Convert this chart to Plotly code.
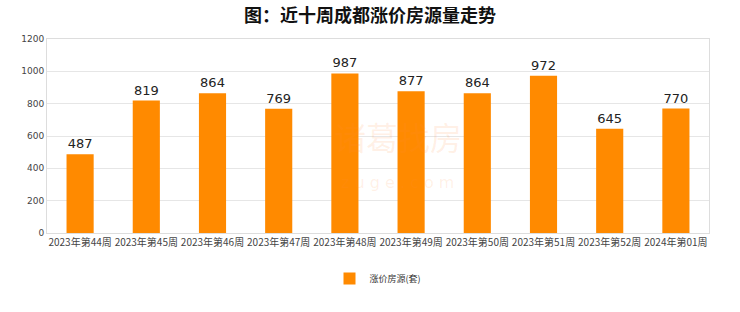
import plotly.graph_objects as go

categories = ["2023年第44周", "2023年第45周", "2023年第46周", "2023年第47周", "2023年第48周",
              "2023年第49周", "2023年第50周", "2023年第51周", "2023年第52周", "2024年第01周"]
values = [487, 819, 864, 769, 987, 877, 864, 972, 645, 770]
series_name = "涨价房源(套)"
title_text = "图：近十周成都涨价房源量走势"

fig = go.Figure()
fig.add_trace(go.Bar(
    x=categories, y=values, name=series_name,
    marker=dict(color="#FF8A00", line=dict(width=0)),
    width=0.41,
    text=[str(v) for v in values], textposition="outside",
    textfont=dict(size=13, color="#222", family="DejaVu Sans"),
    cliponaxis=False,
))

fig.add_annotation(text="诸葛找房", x=0.53, y=0.5, xref="paper", yref="paper",
                   showarrow=False, font=dict(size=32, color="rgba(255,140,60,0.13)", family="Noto Sans CJK SC"))
fig.add_annotation(text="z u g e . c o m", x=0.53, y=0.2, xref="paper", yref="paper",
                   showarrow=False, font=dict(size=16, color="rgba(255,140,60,0.13)", family="DejaVu Sans"))

fig.update_layout(
    width=740, height=312,
    margin=dict(l=47, r=31, t=39, b=79),
    paper_bgcolor="white", plot_bgcolor="white",
    title=dict(text="<b>" + title_text + "</b>", x=0.5, xanchor="center", y=0.95, yanchor="middle",
               font=dict(size=18, color="#111", family="Noto Sans CJK SC")),
    showlegend=True,
    legend=dict(orientation="h", x=0.5, xanchor="center", y=-0.16, yanchor="top",
                font=dict(size=9, color="#333", family="Noto Sans CJK SC")),
    bargap=0.59,
    xaxis=dict(showline=True, linecolor="#ddd", mirror=True, tickfont=dict(size=10, color="#444", family="Noto Sans CJK SC"),
               ticks="", showgrid=False),
    yaxis=dict(range=[0, 1200], dtick=200, showline=True, linecolor="#ddd", mirror=True,
               gridcolor="#e6e6e6", tickfont=dict(size=9, color="#444", family="DejaVu Sans"),
               zeroline=False, ticks="", ticklen=4),
)

fig.write_html("out.html")
